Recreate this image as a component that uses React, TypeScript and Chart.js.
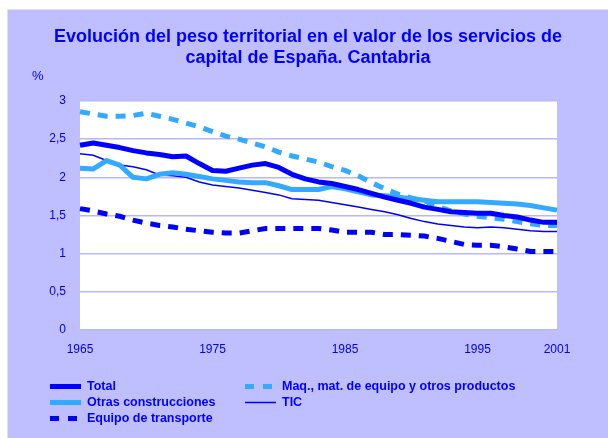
import React, { useEffect, useRef } from 'react';
import { Chart, registerables } from 'chart.js';

Chart.register(...registerables);

const titleLines = [
  'Evolución del peso territorial en el valor de los servicios de',
  'capital de España. Cantabria',
];
const unitLabel = '%';

const years = [
  '1965', '1966', '1967', '1968', '1969', '1970', '1971', '1972', '1973', '1974',
  '1975', '1976', '1977', '1978', '1979', '1980', '1981', '1982', '1983', '1984',
  '1985', '1986', '1987', '1988', '1989', '1990', '1991', '1992', '1993', '1994',
  '1995', '1996', '1997', '1998', '1999', '2000', '2001',
];
const xTickLabels = ['1965', '1975', '1985', '1995', '2001'];

const total = [
  2.42, 2.45, 2.42, 2.39, 2.35, 2.32, 2.30, 2.27, 2.28, 2.18,
  2.09, 2.08, 2.12, 2.16, 2.18, 2.13, 2.04, 1.98, 1.94, 1.92,
  1.88, 1.84, 1.79, 1.74, 1.70, 1.66, 1.61, 1.58, 1.55, 1.54,
  1.53, 1.53, 1.50, 1.48, 1.44, 1.41, 1.41,
];
const otrasConstrucciones = [
  2.12, 2.11, 2.22, 2.16, 2.00, 1.98, 2.04, 2.06, 2.04, 2.01,
  1.98, 1.96, 1.94, 1.93, 1.93, 1.89, 1.84, 1.84, 1.84, 1.88,
  1.85, 1.81, 1.77, 1.76, 1.74, 1.72, 1.70, 1.68, 1.68, 1.68,
  1.68, 1.67, 1.66, 1.65, 1.63, 1.60, 1.57,
];
const maquinaria = [
  2.86, 2.83, 2.80, 2.80, 2.81, 2.84, 2.80, 2.76, 2.71, 2.66,
  2.60, 2.54, 2.50, 2.45, 2.40, 2.33, 2.28, 2.24, 2.20, 2.14,
  2.09, 2.02, 1.93, 1.85, 1.78, 1.73, 1.69, 1.62, 1.56, 1.52,
  1.49, 1.47, 1.45, 1.42, 1.39, 1.37, 1.37,
];
const tic = [
  2.31, 2.29, 2.22, 2.16, 2.14, 2.10, 2.03, 2.02, 2.00, 1.94,
  1.90, 1.88, 1.86, 1.83, 1.80, 1.77, 1.72, 1.71, 1.70, 1.67,
  1.64, 1.61, 1.58, 1.55, 1.51, 1.46, 1.42, 1.39, 1.37, 1.35,
  1.34, 1.35, 1.34, 1.32, 1.30, 1.29, 1.29,
];
const equipoTransporte = [
  1.59, 1.56, 1.52, 1.49, 1.44, 1.40, 1.37, 1.35, 1.32, 1.30,
  1.28, 1.27, 1.27, 1.30, 1.33, 1.33, 1.33, 1.33, 1.33, 1.31,
  1.28, 1.28, 1.28, 1.25, 1.25, 1.24, 1.23, 1.20, 1.16, 1.12,
  1.11, 1.11, 1.09, 1.06, 1.03, 1.03, 1.03,
];

const DARK = '#0000FF';
const LIGHT = '#33AAFF';
const PANEL = '#BFBFFF';
const TEXT = '#0000EE';
const FONT = '"Liberation Sans", Arial, sans-serif';

// legend layout: [datasetIndex, column, row]
const legendSlots: [number, number, number][] = [
  [0, 0, 0],
  [2, 0, 1],
  [4, 0, 2],
  [1, 1, 0],
  [3, 1, 1],
];

const decorPlugin = {
  id: 'decor',
  beforeDraw(chart: any) {
    const { ctx, chartArea } = chart;
    ctx.save();
    ctx.fillStyle = '#FFFFFF';
    ctx.fillRect(chartArea.left, chartArea.top, chartArea.right - chartArea.left, chartArea.bottom - chartArea.top);
    ctx.restore();
  },
  afterDraw(chart: any) {
    const { ctx, chartArea, width } = chart;
    ctx.save();
    // title
    ctx.fillStyle = DARK;
    ctx.font = `bold 18px ${FONT}`;
    ctx.textAlign = 'center';
    ctx.textBaseline = 'middle';
    titleLines.forEach((line, i) => ctx.fillText(line, width / 2, 27 + i * 21));
    // unit
    ctx.font = `13px ${FONT}`;
    ctx.fillStyle = TEXT;
    ctx.textAlign = 'left';
    ctx.fillText(unitLabel, chartArea.left - 48, chartArea.top - 25);
    // legend
    const colX = [42, 237];
    const rowY = [376.5, 392.5, 408.5];
    legendSlots.forEach(([di, col, row]) => {
      const ds = chart.data.datasets[di];
      const x = colX[col];
      const y = rowY[row];
      ctx.beginPath();
      ctx.strokeStyle = ds.borderColor;
      ctx.lineWidth = ds.borderWidth >= 4 ? 5 : 1.5;
      ctx.setLineDash(ds.borderDash && ds.borderDash.length ? [9, 9] : []);
      ctx.lineCap = 'butt';
      ctx.moveTo(x, y);
      ctx.lineTo(x + 31, y);
      ctx.stroke();
      ctx.setLineDash([]);
      ctx.fillStyle = DARK;
      ctx.font = `bold 12.5px ${FONT}`;
      ctx.textAlign = 'left';
      ctx.textBaseline = 'middle';
      ctx.fillText(ds.label, x + 37, y + 0.5);
    });
    ctx.restore();
  },
};

export default function App() {
  const ref = useRef<HTMLCanvasElement | null>(null);
  useEffect(() => {
    if (!ref.current) return;
    const chart = new Chart(ref.current, {
      type: 'line',
      data: {
        labels: years,
        datasets: [
          { label: 'Total', data: total, borderColor: DARK, borderWidth: 5, pointRadius: 0, borderJoinStyle: 'round' },
          { label: 'Maq., mat. de equipo y otros productos', data: maquinaria, borderColor: LIGHT, borderWidth: 5, borderDash: [10, 8], pointRadius: 0 },
          { label: 'Otras construcciones', data: otrasConstrucciones, borderColor: LIGHT, borderWidth: 5, pointRadius: 0, borderJoinStyle: 'round' },
          { label: 'TIC', data: tic, borderColor: DARK, borderWidth: 1.5, pointRadius: 0 },
          { label: 'Equipo de transporte', data: equipoTransporte, borderColor: DARK, borderWidth: 5, borderDash: [10, 8], pointRadius: 0 },
        ],
      },
      options: {
        animation: false,
        responsive: false,
        maintainAspectRatio: false,
        layout: { padding: { left: 0, right: 51, top: 91, bottom: 78 } },
        plugins: { legend: { display: false }, tooltip: { enabled: false }, title: { display: false } },
        scales: {
          x: {
            type: 'category',
            offset: false,
            grid: { display: false, drawTicks: false },
            border: { display: false },
            ticks: {
              autoSkip: false,
              maxRotation: 0,
              color: TEXT,
              font: { family: FONT, size: 12 },
              padding: 12,
              callback: (v: any, i: number) => (xTickLabels.includes(years[i]) ? years[i] : ''),
            },
            afterFit: (s: any) => { s.height = 30; },
          },
          y: {
            min: 0,
            max: 3,
            grid: { color: '#B8B8F4', lineWidth: 1.5, drawTicks: false },
            border: { display: false },
            ticks: {
              stepSize: 0.5,
              color: TEXT,
              font: { family: FONT, size: 12 },
              padding: 14,
              callback: (v: any) => String(v).replace('.', ','),
            },
            afterFit: (s: any) => { s.width = 72; },
          },
        },
      },
      plugins: [decorPlugin],
    } as any);
    return () => chart.destroy();
  }, []);
  return (
    <div
      style={{
        position: 'fixed',
        left: 7,
        top: 9,
        width: 601,
        height: 429,
        background: PANEL,
        borderTop: '1px solid #E2E2EC',
        borderLeft: '1px solid #E2E2EC',
        overflow: 'hidden',
      }}
    >
      <canvas ref={ref} width={600} height={428} style={{ display: 'block' }} />
    </div>
  );
}
